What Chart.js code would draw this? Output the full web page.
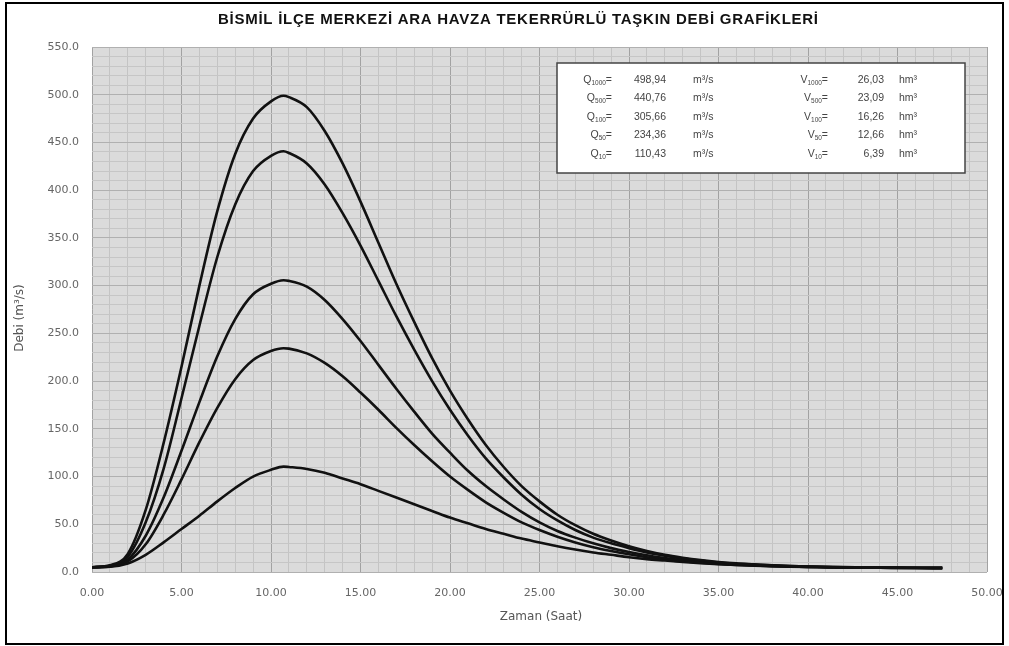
<!DOCTYPE html>
<html>
<head>
<meta charset="utf-8">
<script src="https://cdn.jsdelivr.net/npm/chart.js@4/dist/chart.umd.min.js"></script>
<style>
  html, body { margin: 0; padding: 0; background: #fff; }
  canvas { display: block; }
</style>
</head>
<body>
<canvas id="c" width="1009" height="646"></canvas>
<script>
// ---- data ----
const timeH = [0,1,2,3,4,5,6,7,8,9,10,10.7,11,12,13,14,15,16,17,18,19,20,21,22,23,24,25,26,27,28,29,30,31,32,33,34,35,36,37,38,39,40,41,42,43,44,45,46,47,47.5];

const q1000 = [5,7,19,65,135,215,300,378,438,475,493,498.94,
  497.5,487,462,428,388,345,302,262,224,190,
  160,133,110,90,74,60,49,40,33,27,
  22,18,15,12.5,10.5,9,8,7,6.3,5.8,
  5.4,5.1,4.9,4.7,4.6,4.5,4.4,4.4];
const q500 = [5,6.5,16,52,108,182,258,330,385,420,436,440.76,
  439,428,406,376,342,305,268,233,200,170,
  143,119,99,81,66,54,44,36,30,25,
  20.5,17,14,12,10,8.7,7.7,6.9,6.2,5.7,
  5.3,5.0,4.8,4.6,4.5,4.4,4.3,4.3];
const q100 = [5,6,13,38,78,127,178,226,265,291,302,305.66,
  305,299,285,265,242,217,192,168,145,125,
  106,90,76,63,52,43,36,30,25,21,
  17.5,14.5,12.3,10.5,9,7.9,7,6.3,5.8,5.4,
  5.1,4.8,4.6,4.5,4.4,4.3,4.2,4.2];
const q50 = [5,5.8,11,29,60,97,136,172,202,222,231.5,234.36,
  234,229,219,205,188,170,151,133,116,100,
  86,73,62,52,44,37,31,26,22,18.5,
  15.5,13,11.2,9.7,8.5,7.5,6.7,6.1,5.6,5.2,
  4.9,4.7,4.5,4.4,4.3,4.2,4.1,4.1];
const q10 = [5,5.5,9,18,31,45,59,74,88,100,107,110.43,
  110,108,104,98,92,85,78,71,64,57,
  51,45,40,35,31,27,23.5,20.5,18,15.5,
  13.5,12,10.5,9.3,8.3,7.5,6.8,6.2,5.7,5.3,
  5,4.8,4.6,4.4,4.3,4.2,4.1,4.1];

const xTickLabels = ["0.00","5.00","10.00","15.00","20.00","25.00","30.00","35.00","40.00","45.00","50.00"];
const yTickLabels = ["0.0","50.0","100.0","150.0","200.0","250.0","300.0","350.0","400.0","450.0","500.0","550.0"];

const titleText = "BİSMİL İLÇE MERKEZİ ARA HAVZA TEKERRÜRLÜ TAŞKIN DEBİ GRAFİKLERİ";
const xTitle = "Zaman (Saat)";
const yTitle = "Debi (m³/s)";

const periods = ["1000","500","100","50","10"];
const peakQ = ["498,94","440,76","305,66","234,36","110,43"];
const volV = ["26,03","23,09","16,26","12,66","6,39"];

// ---- chart ----
const FONT = '"Liberation Sans", Arial, sans-serif';
const TFONT = '"DejaVu Sans", Verdana, sans-serif';
Chart.defaults.font.family = FONT;

function mk(arr) { return timeH.map((t, i) => ({ x: t, y: arr[i] })); }
const seriesList = [q1000, q500, q100, q50, q10];

function drawSubLabel(ctx, main, sub, tail, xRight, y) {
  ctx.font = '10.5px ' + FONT;
  const wM = ctx.measureText(main).width;
  const wT = ctx.measureText(tail).width;
  ctx.font = '6.5px ' + FONT;
  const wS = ctx.measureText(sub).width;
  let x = xRight - (wM + wS + wT);
  ctx.textAlign = 'left';
  ctx.font = '10.5px ' + FONT;
  ctx.fillText(main, x, y); x += wM;
  ctx.font = '6.5px ' + FONT;
  ctx.fillText(sub, x, y + 3); x += wS;
  ctx.font = '10.5px ' + FONT;
  ctx.fillText(tail, x, y);
}

const overlay = {
  id: 'overlay',
  beforeDraw(chart) {
    const { ctx, chartArea: a } = chart;
    ctx.save();
    ctx.fillStyle = '#ffffff';
    ctx.fillRect(0, 0, chart.width, chart.height);
    ctx.fillStyle = '#dbdbdb';
    ctx.fillRect(a.left, a.top, a.right - a.left, a.bottom - a.top);
    ctx.restore();
  },
  afterDraw(chart) {
    const { ctx } = chart;
    ctx.save();
    // title
    ctx.fillStyle = '#111';
    ctx.font = 'bold 15px ' + FONT;
    ctx.textBaseline = 'middle';
    ctx.textAlign = 'left';
    const targetW = 600;
    const w0 = ctx.measureText(titleText).width;
    const n = [...titleText].length;
    const ls = (targetW - w0) / (n - 1);
    ctx.letterSpacing = ls + 'px';
    ctx.fillText(titleText, 218, 20);
    ctx.letterSpacing = '0px';

    // axis titles
    ctx.fillStyle = '#555';
    ctx.font = '12px ' + TFONT;
    ctx.textAlign = 'center';
    ctx.fillText(xTitle, 541, 617);
    ctx.save();
    ctx.translate(20, 318);
    ctx.rotate(-Math.PI / 2);
    ctx.fillText(yTitle, 0, 0);
    ctx.restore();

    // info box
    const bx = 557, by = 63, bw = 408, bh = 110;
    ctx.fillStyle = '#ffffff';
    ctx.fillRect(bx, by, bw, bh);
    ctx.strokeStyle = '#444';
    ctx.lineWidth = 1.5;
    ctx.strokeRect(bx, by, bw, bh);
    ctx.fillStyle = '#444';
    ctx.textBaseline = 'middle';
    const rows = [80, 98.5, 117, 135.5, 154];
    for (let i = 0; i < periods.length; i++) {
      const y = rows[i];
      drawSubLabel(ctx, 'Q', periods[i], '=', 612, y);
      ctx.font = '10.5px ' + FONT;
      ctx.textAlign = 'right';
      ctx.fillText(peakQ[i], 666, y);
      ctx.textAlign = 'left';
      ctx.fillText('m³/s', 693, y);
      drawSubLabel(ctx, 'V', periods[i], '=', 828, y);
      ctx.font = '10.5px ' + FONT;
      ctx.textAlign = 'right';
      ctx.fillText(volV[i], 884, y);
      ctx.textAlign = 'left';
      ctx.fillText('hm³', 899, y);
    }

    // outer border
    ctx.strokeStyle = '#000';
    ctx.lineWidth = 2;
    ctx.strokeRect(6, 3, 997, 641);
    ctx.restore();
  }
};

new Chart(document.getElementById('c'), {
  type: 'line',
  data: {
    datasets: seriesList.map((arr, i) => ({
      label: 'Q' + periods[i],
      data: mk(arr),
      borderColor: '#111',
      borderWidth: 2.6,
      pointRadius: 0,
      fill: false,
      cubicInterpolationMode: 'monotone'
    }))
  },
  options: {
    responsive: false,
    animation: false,
    devicePixelRatio: 1,
    layout: { padding: { left: 0, right: 22, top: 47, bottom: 0 } },
    plugins: { legend: { display: false }, title: { display: false }, tooltip: { enabled: false } },
    scales: {
      x: {
        type: 'linear',
        min: 0, max: 50,
        border: { display: false },
        grid: {
          drawTicks: false,
          color: (c) => (Math.round(c.tick.value) % 5 === 0 ? '#a2a2a2' : '#c4c4c4'),
          lineWidth: 1
        },
        ticks: {
          stepSize: 1,
          autoSkip: false,
          maxRotation: 0,
          padding: 15,
          color: '#666',
          font: { size: 11, family: TFONT },
          callback: (v) => { const r = Math.round(v); return r % 5 === 0 ? xTickLabels[r / 5] : ''; }
        },
        afterFit: (s) => { s.height = 74; s.paddingRight = 0; s.paddingLeft = 0; }
      },
      y: {
        type: 'linear',
        min: 0, max: 550,
        border: { display: false },
        grid: {
          drawTicks: false,
          color: (c) => (Math.round(c.tick.value) % 50 === 0 ? '#b0b0b0' : '#c6c6c6'),
          lineWidth: 1
        },
        ticks: {
          stepSize: 10,
          autoSkip: false,
          padding: 13,
          color: '#666',
          font: { size: 11, family: TFONT },
          callback: (v) => { const r = Math.round(v); return r % 50 === 0 ? yTickLabels[r / 50] : ''; }
        },
        afterFit: (s) => { s.width = 92; s.paddingTop = 0; s.paddingBottom = 0; }
      }
    }
  },
  plugins: [overlay]
});
</script>
</body>
</html>
